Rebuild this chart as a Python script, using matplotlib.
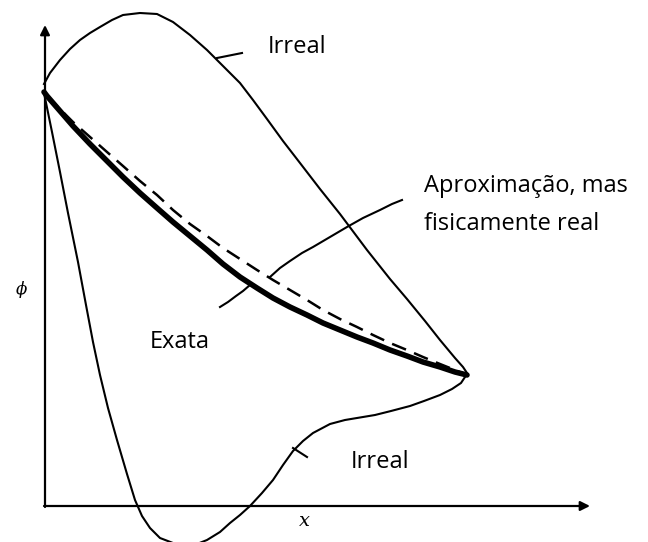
import matplotlib.pyplot as plt

# curve points (pixel coords, y down)
upper_x = [44, 50, 60, 70, 80, 90, 100, 112, 123, 140, 157, 173, 190, 207, 223, 240, 253, 267, 283,
           300, 320, 340, 367, 390, 407, 425, 440, 455, 463, 467]
upper_y = [84, 73, 60, 49, 40, 33, 27, 20, 15, 13, 14, 22, 35, 50, 66, 83, 100, 119, 141,
           163, 189, 214, 250, 279, 299, 321, 340, 358, 367, 373]

exact_x = [44, 47, 60, 73, 90, 107, 123, 140, 157, 173, 190, 207, 223, 240, 257, 273, 290, 307,
           323, 340, 357, 373, 390, 407, 423, 440, 455, 463, 467]
exact_y = [92, 96, 111, 126, 144, 161, 177, 193, 208, 222, 236, 250, 264, 277, 288, 298, 307, 315,
           323, 330, 337, 343, 350, 356, 362, 367, 372, 374, 375]

approx_x = [47, 57, 73, 90, 107, 123, 140, 157, 173, 190, 207, 223, 240, 257, 273, 290, 307, 323,
            340, 357, 373, 390, 407, 423, 440, 455, 467]
approx_y = [96, 106, 122, 137, 152, 166, 181, 195, 210, 224, 236, 248, 259, 270, 280, 290, 300, 310,
            319, 327, 335, 343, 350, 357, 364, 370, 375]

lower_x = [44, 52, 60, 68, 78, 86, 93, 100, 108, 117, 127, 135, 142, 150, 160, 173, 185, 197, 207,
           220, 230, 240, 250, 262, 273, 283, 293, 303, 313, 330, 345, 357, 375, 391, 410, 424, 440,
           452, 461, 467]
lower_y = [93, 132, 172, 213, 262, 305, 342, 375, 408, 440, 474, 500, 516, 528, 538, 543, 545, 544, 540,
           532, 523, 515, 506, 493, 480, 465, 451, 441, 433, 424, 420, 418, 415, 411, 406, 401, 395,
           389, 383, 374]

# label leaders
lead_top_x = [217, 242]
lead_top_y = [58, 53]
lead_low_x = [293, 307]
lead_low_y = [448, 457]
lead_exata_x = [220, 228, 236, 243, 250]
lead_exata_y = [307, 302, 296, 291, 285]
lead_aprox_x = [270, 280, 290, 302, 313, 330, 347, 363, 380, 392, 402]
lead_aprox_y = [277, 268, 261, 253, 247, 237, 227, 218, 210, 204, 200]

fig = plt.figure(figsize=(6.48, 5.42), dpi=100)
ax = fig.add_axes([0, 0, 1, 1])
ax.set_xlim(0, 648)
ax.set_ylim(542, 0)
ax.axis('off')

# axes with arrows
arrow = dict(arrowstyle='-|>', color='black', lw=1.6, mutation_scale=14, shrinkA=0, shrinkB=0)
ax.annotate('', xy=(45, 25), xytext=(45, 507), arrowprops=arrow)
ax.annotate('', xy=(590, 506), xytext=(44, 506), arrowprops=arrow)

ax.plot(upper_x, upper_y, color='black', lw=1.5, solid_joinstyle='round')
ax.plot(lower_x, lower_y, color='black', lw=1.5, solid_joinstyle='round')
ax.plot(approx_x, approx_y, color='black', lw=1.8, dashes=(6, 3.5))
ax.plot(exact_x, exact_y, color='black', lw=4, solid_capstyle='round', solid_joinstyle='round')

for lx, ly in [(lead_top_x, lead_top_y), (lead_low_x, lead_low_y),
               (lead_exata_x, lead_exata_y), (lead_aprox_x, lead_aprox_y)]:
    ax.plot(lx, ly, color='black', lw=1.5)

font = dict(family=['Open Sans', 'DejaVu Sans'], fontsize=17, color='black', ha='left', va='baseline')
ax.text(268, 53, 'Irreal', **font)
ax.text(424, 192, 'Aproximação, mas', **font)
ax.text(424, 230, 'fisicamente real', **font)
ax.text(150, 348, 'Exata', **font)
ax.text(351, 468, 'Irreal', **font)

ax.text(22, 289, 'ϕ', family='DejaVu Serif', style='italic', fontsize=12, ha='center', va='center')
ax.text(304, 521, 'x', family='DejaVu Serif', style='italic', fontsize=14, ha='center', va='center')

fig.savefig('out.png', dpi=100)
